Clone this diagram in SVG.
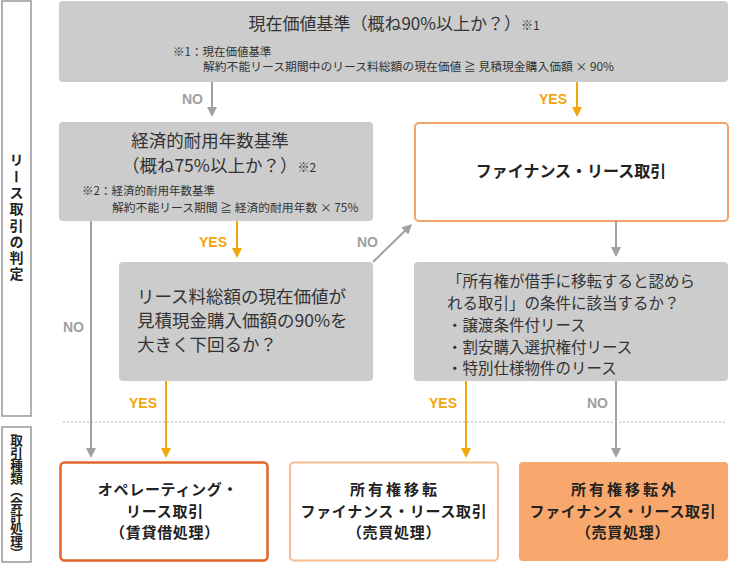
<svg xmlns="http://www.w3.org/2000/svg" width="730" height="564" viewBox="0 0 730 564">
<style>
.jp{font-family:"Noto Sans CJK JP","Noto Sans",sans-serif;fill:#333}
.b{font-weight:bold;fill:#222}
.bt{font-size:15px;letter-spacing:0.7px}
.vt{writing-mode:vertical-rl}
.lab{font-family:"Liberation Sans",Arial,sans-serif;font-weight:bold;font-size:14px;text-anchor:end}
.gl{fill:#a0a0a0}
.yl{fill:#f2a60c}
.gray{fill:#cccccc}
.side{fill:#fff;stroke:#999;stroke-width:1.5}
.c{text-anchor:middle}
.g{stroke:#a0a0a0;stroke-width:2;fill:none}
.y{stroke:#f2a60c;stroke-width:2;fill:none}
</style>
<defs>
<marker id="ag" markerUnits="userSpaceOnUse" markerWidth="10" markerHeight="10" viewBox="0 0 10 10" refX="5" refY="5" orient="auto"><path d="M0,0 L10,5 L0,10 z" fill="#a0a0a0"/></marker>
<marker id="ay" markerUnits="userSpaceOnUse" markerWidth="10" markerHeight="10" viewBox="0 0 10 10" refX="5" refY="5" orient="auto"><path d="M0,0 L10,5 L0,10 z" fill="#f2a60c"/></marker>
</defs>
<rect width="730" height="564" fill="#fff"/>

<g id="side1">
<rect class="side" x="2" y="1" width="29" height="415"/>
<text class="jp b vt" x="16.5" y="153" font-size="14" letter-spacing="2.3">リース取引の判定</text>
</g>
<g id="side2">
<rect class="side" x="2" y="427" width="29" height="135"/>
<text class="jp b vt" x="16.5" y="434" font-size="12.6">取引種類（会計処理）</text>
</g>

<line x1="63" y1="422" x2="726" y2="422" stroke="#cccccc" stroke-width="1.5" stroke-dasharray="2 2"/>

<g id="pv">
<rect class="gray" x="59" y="1" width="669" height="81" rx="4"/>
<text class="jp c" x="394" y="30" font-size="17">現在価値基準（概ね90%以上か？）<tspan font-size="12">※1</tspan></text>
<text class="jp" x="173" y="56" font-size="11.5">※1：現在価値基準</text>
<text class="jp" x="203" y="71" font-size="11.8">解約不能リース期間中のリース料総額の現在価値 ≧ 見積現金購入価額 × 90%</text>
</g>

<g id="eco">
<rect class="gray" x="59" y="122" width="314" height="99" rx="4"/>
<text class="jp c" x="210" y="147" font-size="17.5">経済的耐用年数基準</text>
<text class="jp c" x="219" y="172" font-size="17.5">（概ね75%以上か？）<tspan font-size="12">※2</tspan></text>
<text class="jp" x="82" y="195" font-size="11.5">※2：経済的耐用年数基準</text>
<text class="jp" x="112" y="212" font-size="11.8">解約不能リース期間 ≧ 経済的耐用年数 × 75%</text>
</g>

<g id="fl">
<rect x="415" y="123" width="313" height="98" rx="4" fill="#fff" stroke="#f3a46e" stroke-width="2"/>
<text class="jp b c" x="571" y="177" font-size="16">ファイナンス・リース取引</text>
</g>

<g id="q3">
<rect class="gray" x="119" y="262" width="254" height="119" rx="4"/>
<text class="jp" x="137" y="303" font-size="17.5">リース料総額の現在価値が</text>
<text class="jp" x="137" y="327" font-size="17.5">見積現金購入価額の90%を</text>
<text class="jp" x="137" y="351" font-size="17.5">大きく下回るか？</text>
</g>

<g id="q4">
<rect class="gray" x="414" y="262" width="314" height="119" rx="4"/>
<text class="jp" x="447" y="287" font-size="15.5">「所有権が借手に移転すると認めら</text>
<text class="jp" x="447" y="309" font-size="15.5">れる取引」の条件に該当するか？</text>
<text class="jp" x="447" y="331" font-size="15.5">・譲渡条件付リース</text>
<text class="jp" x="447" y="353" font-size="15.5">・割安購入選択権付リース</text>
<text class="jp" x="447" y="374" font-size="15.5">・特別仕様物件のリース</text>
</g>

<g id="op">
<rect x="60.5" y="462.5" width="207" height="98" rx="4" fill="#fff" stroke="#e0652a" stroke-width="2.5"/>
<text class="jp b c bt" x="168" y="495">オペレーティング・</text>
<text class="jp b c bt" x="165" y="517">リース取引</text>
<text class="jp b c bt" x="165" y="538">（賃貸借処理）</text>
</g>

<g id="own">
<rect x="290" y="462.5" width="208" height="98" rx="4" fill="#fff" stroke="#f7bb91" stroke-width="2"/>
<text class="jp b c bt" x="395" y="495" style="letter-spacing:3px">所有権移転</text>
<text class="jp b c bt" x="394" y="517">ファイナンス・リース取引</text>
<text class="jp b c bt" x="394" y="538">（売買処理）</text>
</g>

<g id="nonown">
<rect x="519" y="462" width="209" height="99" rx="4" fill="#f9a86d"/>
<text class="jp b c bt" x="625" y="495" style="letter-spacing:3px">所有権移転外</text>
<text class="jp b c bt" x="623" y="517">ファイナンス・リース取引</text>
<text class="jp b c bt" x="623" y="538">（売買処理）</text>
</g>

<g id="connectors">
<line class="g" x1="212" y1="82" x2="212" y2="112" marker-end="url(#ag)"/>
<line class="y" x1="577" y1="82" x2="577" y2="112" marker-end="url(#ay)"/>
<line class="y" x1="237" y1="221" x2="237" y2="253" marker-end="url(#ay)"/>
<line class="g" x1="616" y1="221" x2="616" y2="252" marker-end="url(#ag)"/>
<line class="g" x1="373" y1="262" x2="408.4" y2="227.5" marker-end="url(#ag)"/>
<line class="g" x1="91" y1="221" x2="91" y2="453" marker-end="url(#ag)"/>
<line class="y" x1="166" y1="381" x2="166" y2="453" marker-end="url(#ay)"/>
<line class="y" x1="466" y1="381" x2="466" y2="453" marker-end="url(#ay)"/>
<line class="g" x1="616" y1="381" x2="616" y2="453" marker-end="url(#ag)"/>
<text class="lab gl" x="203" y="104">NO</text>
<text class="lab yl" x="567" y="104">YES</text>
<text class="lab yl" x="227" y="247">YES</text>
<text class="lab gl" x="378" y="247">NO</text>
<text class="lab gl" x="84" y="332">NO</text>
<text class="lab yl" x="157" y="408">YES</text>
<text class="lab yl" x="457" y="408">YES</text>
<text class="lab gl" x="608" y="408">NO</text>
</g>
</svg>
